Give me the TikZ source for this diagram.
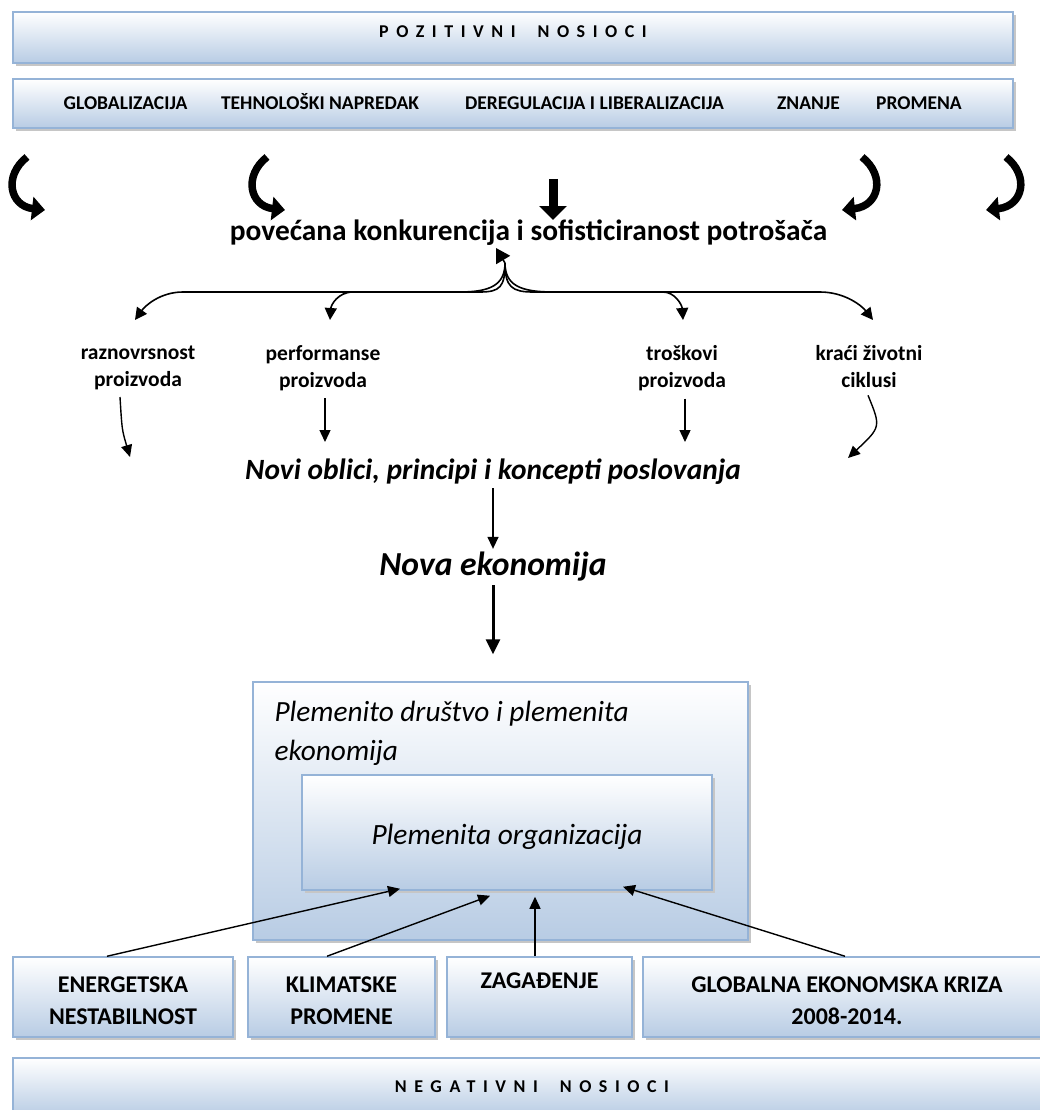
\documentclass[tikz,border=0pt]{standalone}
\usepackage{fontspec}
\setmainfont{Carlito}
\usetikzlibrary{arrows.meta, positioning, shadows, calc}
\definecolor{barline}{HTML}{95B3D7}
\definecolor{barfill}{HTML}{B8CCE4}

\begin{document}
\begin{tikzpicture}[
      x=1pt, y=-1pt,
      bar/.style={rectangle, draw=barline, line width=1.5pt, top color=white,
                  bottom color=barfill, inner sep=0pt,
                  general shadow={fill=gray!45, shadow xshift=3pt, shadow yshift=-3pt}},
      spaced/.style={font=\fontsize{18}{21}\selectfont\bfseries\addfontfeature{LetterSpace=42}},
      factor/.style={font=\fontsize{19.5}{23}\selectfont\bfseries,
                     text height=14pt, text depth=4pt},
      effect/.style={font=\fontsize{21.5}{27}\selectfont\bfseries, align=center, anchor=north},
      negbox/.style={bar, font=\fontsize{24}{32}\selectfont\bfseries, align=center,
                     minimum height=80},
      title/.style={font=\fontsize{29.4}{34}\selectfont\bfseries\itshape},
      curv/.style={line width=7.5pt, -{Triangle[length=13pt, width=23pt]}},
      brarr/.style={line width=1.6pt, -{Triangle[length=12pt, width=12pt]}},
      line/.style={line width=1.4pt, -{Triangle[length=12pt, width=11pt]}}
  ]
      \path[use as bounding box, clip] (0,0) rectangle (1040,1110);

      % positive drivers
      \node (posbar) [bar, spaced, minimum width=1000, minimum height=51,
                      text height=12pt, text depth=12pt] at (513,37.5)
          {POZITIVNI\hspace{22pt}NOSIOCI};
      \node (factbar) [bar, minimum width=1000, minimum height=49] at (513,103.5) {};
      \node (glob)  [factor] at (125.5,105) {GLOBALIZACIJA};
      \node (tech)  [factor] at (320,105) {TEHNOLOŠKI NAPREDAK};
      \node (dereg) [factor] at (594.5,105) {DEREGULACIJA I LIBERALIZACIJA};
      \node (zna)   [factor] at (808.5,105) {ZNANJE};
      \node (prom)  [factor] at (919,105) {PROMENA};

      \draw[curv] (27,157) .. controls (3,176) and (10,206) .. (45,210);
      \draw[curv] (267,157) .. controls (243,176) and (250,206) .. (285,210);
      \draw[curv] (862,157) .. controls (886,176) and (879,206) .. (842,210);
      \draw[curv] (1006,157) .. controls (1030,176) and (1023,206) .. (986,210);
      \draw[line width=9pt, -{Triangle[length=14pt, width=27pt]}] (553,179) -- (553,220);

      \node (konk) [font=\fontsize{29.4}{34}\selectfont\bfseries] at (528.5,233)
          {povećana konkurencija i sofisticiranost potrošača};

      % effects
      \node (raz)  [effect] at (138,342) {raznovrsnost\\proizvoda};
      \node (perf) [effect] at (323,342) {performanse\\proizvoda};
      \node (tros) [effect] at (682,342) {troškovi\\proizvoda};
      \node (krac) [effect] at (869,342) {kraći životni\\ciklusi};

      \coordinate (hub) at (505,263);
      \draw[-{Triangle[length=14pt, width=16pt]}, line width=1.6pt] (hub) -- (496,248);
      \draw[brarr] (hub) .. controls (505,285) and (490,292) .. (460,292) -- (183,292)
          .. controls (160,292) and (145,306) .. ([xshift=-3pt, yshift=22pt]raz.north);
      \draw[brarr] (hub) .. controls (505,287) and (500,292) .. (480,292) -- (353,292)
          .. controls (338,292) and (331,305) .. ([xshift=7pt, yshift=22pt]perf.north);
      \draw[brarr] (hub) .. controls (505,287) and (512,292) .. (533,292) -- (663,292)
          .. controls (675,292) and (682,305) .. ([xshift=1pt, yshift=22pt]tros.north);
      \draw[brarr] (hub) .. controls (505,285) and (520,292) .. (553,292) -- (820,292)
          .. controls (845,292) and (862,306) .. ([xshift=4pt, yshift=22pt]krac.north);

      \node (novi) [title] at (493,472) {Novi oblici, principi i koncepti poslovanja};
      \node (nova) [title, font=\fontsize{33.6}{38}\selectfont\bfseries\itshape]
          at (493,567) {Nova ekonomija};

      \coordinate (razend)  at (130,457);
      \coordinate (perfend) at (325,442);
      \coordinate (trosend) at (685,442);
      \coordinate (kracend) at (848,458);
      \draw[line] ([xshift=-18pt, yshift=-4pt]raz.south) .. controls (122,430) .. (razend);
      \draw[line] ([yshift=-4pt]perf.south -| perfend) -- (perfend);
      \draw[line] ([yshift=-4pt]tros.south -| trosend) -- (trosend);
      \draw[line] ([xshift=-1pt, yshift=-4pt]krac.south) .. controls (881,427) .. (kracend);

      \draw[line] (novi.south -| 493,0) -- (nova.north -| 493,0);

      % noble society
      \node (drus) [bar, minimum width=495, minimum height=258] at (500.5,811) {};
      \node (drustxt) [anchor=west, align=left, font=\fontsize{29.3}{39}\selectfont\itshape]
          at (271,733) {Plemenito društvo i plemenita\\ekonomija};
      \node (org) [bar, minimum width=410, minimum height=115, text height=30pt,
                   text depth=6pt, font=\fontsize{29.4}{34}\selectfont\itshape]
          at (507,832.5) {Plemenita organizacija};

      \draw[line width=3pt, -{Triangle[length=15pt, width=14pt]}, shorten >=27pt]
          (nova.south -| 493,0) -- (drus.north -| 493,0);

      % negative drivers
      \node (ener) [negbox, minimum width=220] at (123,997)
          {\rule{0pt}{24pt}ENERGETSKA\\NESTABILNOST};
      \node (klim) [negbox, minimum width=187] at (341.5,997)
          {\rule{0pt}{24pt}KLIMATSKE\\PROMENE};
      \node (zag)  [negbox, minimum width=185] at (539.5,997)
          {\rule{0pt}{24pt}ZAGAĐENJE\\\strut};
      \node (kriza) [negbox, minimum width=408] at (847,997)
          {\rule{0pt}{24pt}GLOBALNA EKONOMSKA KRIZA\\2008-2014.};
      \node (negbar) [bar, spaced, minimum width=1038, minimum height=58] at (532,1087)
          {NEGATIVNI\hspace{22pt}NOSIOCI};

      \draw[line] ([xshift=-16pt]ener.north) -- ([xshift=-107pt, yshift=2pt]org.south);
      \draw[line] ([xshift=-14.5pt]klim.north) -- ([xshift=-17pt, yshift=-5pt]org.south);
      \draw[line] ([xshift=-4.5pt]zag.north) -- ([xshift=28pt, yshift=-6pt]org.south);
      \draw[line] ([xshift=-2pt]kriza.north) -- ([xshift=116pt, yshift=4pt]org.south);
  \end{tikzpicture}
\end{document}
